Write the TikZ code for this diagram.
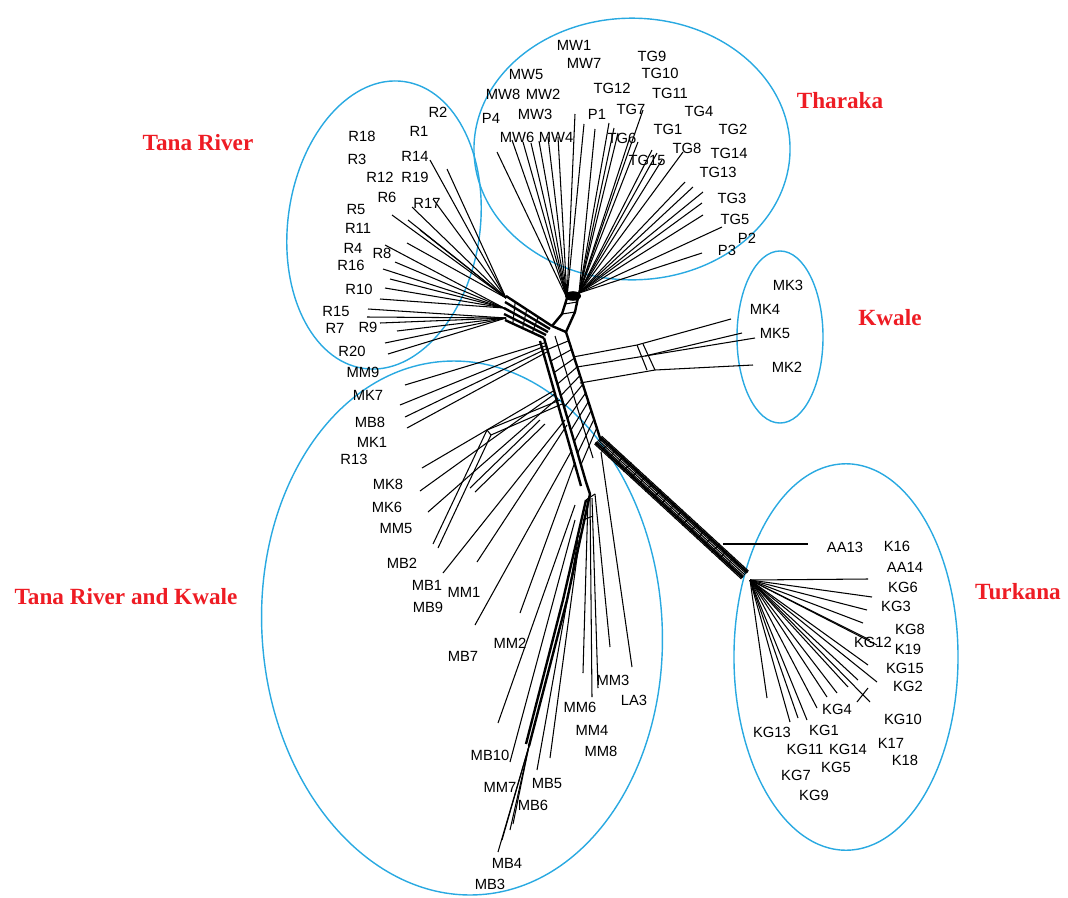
\documentclass[tikz,border=0pt]{standalone}
\usepackage{fontspec}
\setmainfont{Liberation Sans}
\newfontfamily\ttlfont{Liberation Serif}
\usetikzlibrary{calc}
\definecolor{grpblue}{HTML}{29A9E1}
\definecolor{ttlred}{HTML}{EE1C24}
\begin{document}
\begin{tikzpicture}[x=0.025cm,y=-0.025cm,
  lbl/.style={font=\fontsize{10.5}{12}\selectfont, inner sep=0pt},
  ttl/.style={font=\ttlfont\bfseries\fontsize{16.5}{19}\selectfont, text=ttlred, inner sep=0pt},
  grp/.style={draw=grpblue, line width=1pt},
  br/.style={line width=0.75pt},
  bund/.style={line width=1.7pt}]
\useasboundingbox (0,0) rectangle (1068,897);

% ---------- group ellipses ----------
\draw[grp, rotate around={-8:(384,225)}] (384,225) ellipse [x radius=2.4cm, y radius=3.62cm];
\draw[grp] (632,149) ellipse [x radius=3.95cm, y radius=3.27cm];
\draw[grp] (780,337) ellipse [x radius=1.075cm, y radius=2.15cm];
\draw[grp] (846,657) ellipse [x radius=2.8cm, y radius=4.83cm];
\draw[grp, rotate around={4:(462,628)}] (462,628) ellipse [x radius=5cm, y radius=6.68cm];

% ---------- titles ----------
\node[ttl] (tTana) at (198,143) {Tana River};
\node[ttl] (tThar) at (840,101) {Tharaka};
\node[ttl] (tKwal) at (890,318) {Kwale};
\node[ttl] (tTurk) at (1018,592) {Turkana};
\node[ttl] (tTRK) at (126,597) {Tana River and Kwale};

% ---------- core coordinates ----------
\coordinate (TRa) at (506,298);
\coordinate (TRb) at (504,308);
\coordinate (TRc) at (506,318);
\coordinate (THa) at (567,298);
\coordinate (THb) at (579,293);
\coordinate (L1) at (544,338);
\coordinate (L2) at (586,482);
\coordinate (R1) at (566,332);
\coordinate (R2) at (601,441);
\coordinate (T1) at (598,440);
\coordinate (T2) at (745,575);
\coordinate (TK) at (750,580);
\coordinate (LB) at (590,494);
\coordinate (LB2) at (529,746);

% ---------- Tana River fan ----------
\foreach \h/\x/\y [count=\i] in {TRa/430/160,TRa/447/169,TRa/433/199,TRa/412/207,TRa/392/215,TRa/408/220,TRa/407/243,TRa/420/230,
  TRb/385/245,TRb/383/269,TRb/390/279,TRb/385/288,TRb/380/299,TRb/395/262,
  TRc/368/309,TRc/367/317,TRc/397/331,TRc/385/343,TRc/388/354,TRc/380/323}
  {\coordinate (tre\i) at (\x,\y); \draw[br] (\h) -- (tre\i);}
\foreach \a/\b/\c/\d in {506/296/552/326, 505/302/550/329, 504/308/548/332, 504/314/546/335, 505/320/544/338}
  \draw[bund] (\a,\b) -- (\c,\d);
\foreach \t in {0.2,0.45,0.7}
  \draw[br] ($(506,296)!\t!(552,326)$) -- ($(505,320)!\t!(544,338)$);

% ---------- Tharaka fan ----------
\foreach \h/\x/\y [count=\i] in {THa/497/152,THa/512/140,THa/523/142,THa/531/143,THa/539/141,THa/548/137,THa/558/137,THa/575/114,THa/584/124,
  THb/595/129,THb/609/123,THb/614/128,THb/618/133,THb/630/137,THb/643/110,THb/638/142,THb/652/150,THb/657/153,THb/662/160,
  THb/683/152,THb/685/182,THb/693/187,THb/703/192,THb/702/203,THb/703/215,THb/722/227,THb/702/253}
  {\coordinate (the\i) at (\x,\y); \draw[br] (\h) -- (the\i);}
\draw[bund] (THa) -- (562,314) -- (552,326);
\draw[bund] (THb) -- (575,312) -- (R1);
\draw[br] (562,314) -- (575,312);
\draw[br] (565,304) -- (577,302);
\fill (573,296) ellipse [x radius=0.2cm, y radius=0.12cm];

% ---------- central trunk ----------
\draw[bund] (L1) -- (L2) -- (LB);
\draw[bund] (540,341) -- (581,486);
\draw[bund] (R1) -- (R2);
\draw[br] (555,336) -- (593,458);
\foreach \t in {0.08,0.16,...,0.96}
  \draw[br] ($(L1)!\t!(L2)$) -- ($(R1)!\t!(R2)$);
\draw[bund] (552,326) -- (566,332);

% ---------- Turkana bundle ----------
\foreach \k in {-3,-2,...,3}
  \draw[br] ($(T1)+(-1.2*\k,1.3*\k)$) -- ($(T2)+(-1.2*\k,1.3*\k)$);
\draw[bund] ($(T1)+(2.4,-2.6)$) -- ($(T2)+(2.4,-2.6)$);
\draw[bund] ($(T1)+(-2.4,2.6)$) -- ($(T2)+(-2.4,2.6)$);
\foreach \t in {0.05,0.1,...,0.95}
  \draw[br] ($(T1)!\t!(T2)+(-4,4.4)$) -- ($(T1)!\t!(T2)+(4,-4.4)$);

% ---------- Kwale ----------
\coordinate (kwa) at (637,345);
\coordinate (kwb) at (645,356);
\coordinate (kwc) at (655,370);
\coordinate (k1) at (731,319);
\coordinate (k2) at (742,333);
\coordinate (k3) at (755,338);
\coordinate (k4) at (753,365);
\draw[br] (573,357) -- (kwa) -- (k1);
\draw[br] (577,367) -- (kwb) -- (k2);
\draw[br] (kwb) -- (k3);
\draw[br] (580,383) -- (kwc) -- (k4);
\draw[br] (kwa) -- (647,370);
\draw[br] (643,344) -- (kwc);

% ---------- lower-left fan ----------
\foreach \sx/\sy/\x/\y [count=\i] in {544/343/405/385, 545/346/400/405, 546/349/405/417, 547/352/407/428,
  555/390/422/468, 556/393/420/491, 558/398/428/512,
  565/420/443/573, 567/425/477/562, 572/450/475/625, 575/462/520/613}
  {\coordinate (lle\i) at (\x,\y); \draw[br] (\sx,\sy) -- (lle\i);}
% small split bundle
\draw[br] (560,400) -- (487,430) -- (433,544);
\draw[br] (562,404) -- (491,435) -- (438,548);
\draw[br] (487,430) -- (491,435);
\draw[br] (540,420) -- (470,488);
\draw[br] (545,424) -- (475,492);

% ---------- lower branch ----------
\draw[bund] (LB) -- (567,600) -- (LB2);
\draw[bund] (586,500) -- (563,600) -- (526,744);
\foreach \x/\y [count=\i] in {498/852,502/840,510/830,513/824}
  {\coordinate (lbe\i) at (\x,\y); \draw[br] (LB2) -- (lbe\i);}
\foreach \sx/\sy/\x/\y [count=\i] in {578/540/537/770, 580/535/550/758, 575/520/510/762, 575/505/498/723,
  588/498/583/673, 590/498/592/697, 592/498/598/688, 595/494/610/647, 601/452/632/667}
  {\coordinate (lve\i) at (\x,\y); \draw[br] (\sx,\sy) -- (lve\i);}
\draw[br] (586,500) -- (595,494);
\draw[br] (583,520) -- (593,516);

% ---------- Turkana fan ----------
\coordinate (aa) at (723,544);
\coordinate (aae) at (808,544);
\draw[br] (aa) -- (aae);
\foreach \x/\y [count=\i] in {868/579,872/597,867/610,863/623,870/640,877/645,868/665,877/682,870/702,858/680,848/687,837/693,827/697,817/708,807/720,798/718,790/722,767/698}
  {\coordinate (tke\i) at (\x,\y); \draw[br] (TK) -- (tke\i);}
\draw[br] (857,702) -- (868,688);

% ---------- labels ----------
\foreach \n/\x/\y in {R2/438/112, R1/419/131, R18/362/136, R14/415/156, R3/357/159, R12/380/177, R19/415/177, R6/387/197, R17/427/203, R5/356/209, R11/358/228, R4/353/248, R8/382/253, R16/351/265, R10/359/289, R15/336/311, R7/335/328, R9/368/327, R20/352/351, MM9/363/372,
  MW1/574/45, MW7/584/63, TG9/652/56, MW5/526/74, TG10/660/73, MW8/503/94, MW2/543/94, TG12/612/88, TG11/670/93, MW3/535/114, P1/597/114, TG7/631/109, TG4/699/111, P4/491/118, MW6/517/137, MW4/556/137, TG6/622/138, TG1/668/129, TG2/733/129, TG8/687/148, TG14/729/153, TG15/647/160, TG13/718/172, TG3/732/198, TG5/735/219, P2/747/238, P3/727/250,
  MK3/788/285, MK4/765/309, MK5/775/333, MK2/787/367,
  MK7/368/395, MB8/370/422, MK1/372/442, R13/354/459, MK8/388/484, MK6/387/507, MM5/396/528, MB2/402/563, MB1/427/585, MM1/464/592, MB9/428/607, MB7/463/656, MM2/510/643, MM3/613/680, LA3/634/700, MM6/580/707, MM4/592/730, MM8/601/751, MB10/490/755, MM7/500/787, MB5/547/783, MB6/533/805, MB4/507/863, MB3/490/884,
  AA13/845/547, K16/897/546, AA14/905/567, KG6/903/587, KG3/896/606, KG8/910/629, KG12/873/642, K19/908/649, KG15/905/668, KG2/908/686, KG4/837/709, KG10/903/719, KG13/772/732, KG1/824/730, K17/891/743, KG11/805/749, KG14/848/749, K18/905/760, KG5/836/767, KG7/796/775, KG9/814/795}
  \node[lbl] (n\n) at (\x,\y) {\n};
\end{tikzpicture}
\end{document}
